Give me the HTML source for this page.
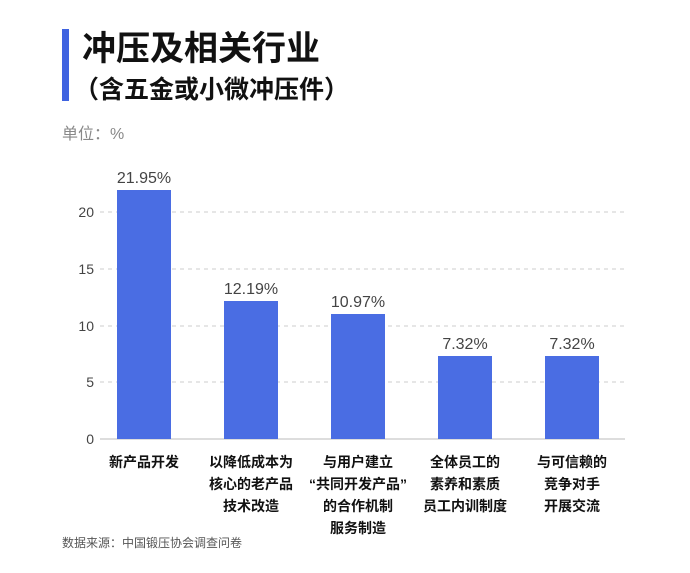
<!DOCTYPE html>
<html><head><meta charset="utf-8"><style>
body{margin:0;width:690px;height:568px;background:#fff;overflow:hidden;font-family:"Liberation Sans","Noto Sans CJK SC",sans-serif;}
</style></head><body>
<svg width="690" height="568" xmlns="http://www.w3.org/2000/svg" font-family="Liberation Sans, Noto Sans CJK SC, sans-serif">
<rect x="62" y="29" width="7" height="72" fill="#3f63e0"/>
<text x="82" y="60" font-size="34" font-weight="bold" fill="#111">冲压及相关行业</text>
<text x="74" y="98" font-size="25" font-weight="bold" fill="#111">（含五金或小微冲压件）</text>
<text x="62" y="139" font-size="16" fill="#888">单位：%</text>
<g stroke="#ccc" stroke-dasharray="4,4" stroke-width="1">
<line x1="100" y1="212" x2="625" y2="212"/>
<line x1="100" y1="269" x2="625" y2="269"/>
<line x1="100" y1="326" x2="625" y2="326"/>
<line x1="100" y1="382" x2="625" y2="382"/>
</g>
<line x1="100" y1="439" x2="625" y2="439" stroke="#bbb"/>
<g font-size="14" fill="#444" text-anchor="end">
<text x="94" y="217">20</text><text x="94" y="274">15</text><text x="94" y="331">10</text><text x="94" y="387">5</text><text x="94" y="444">0</text>
</g>
<g fill="#4a6de3">
<rect x="117" y="190" width="54" height="249"/>
<rect x="224" y="301" width="54" height="138"/>
<rect x="331" y="314" width="54" height="125"/>
<rect x="438" y="356" width="54" height="83"/>
<rect x="545" y="356" width="54" height="83"/>
</g>
<g font-size="16" fill="#444" text-anchor="middle">
<text x="144" y="183">21.95%</text><text x="251" y="294">12.19%</text><text x="358" y="307">10.97%</text><text x="465" y="349">7.32%</text><text x="572" y="349">7.32%</text>
</g>
<g font-size="14" font-weight="bold" fill="#111" text-anchor="middle">
<text x="144" y="467">新产品开发</text>
<text x="251" y="467">以降低成本为</text><text x="251" y="489">核心的老产品</text><text x="251" y="511">技术改造</text>
<text x="358" y="467">与用户建立</text><text x="358" y="489">“共同开发产品”</text><text x="358" y="511">的合作机制</text><text x="358" y="533">服务制造</text>
<text x="465" y="467">全体员工的</text><text x="465" y="489">素养和素质</text><text x="465" y="511">员工内训制度</text>
<text x="572" y="467">与可信赖的</text><text x="572" y="489">竞争对手</text><text x="572" y="511">开展交流</text>
</g>
<text x="62" y="547" font-size="12" fill="#555">数据来源：中国锻压协会调查问卷</text>
</svg>
</body></html>
